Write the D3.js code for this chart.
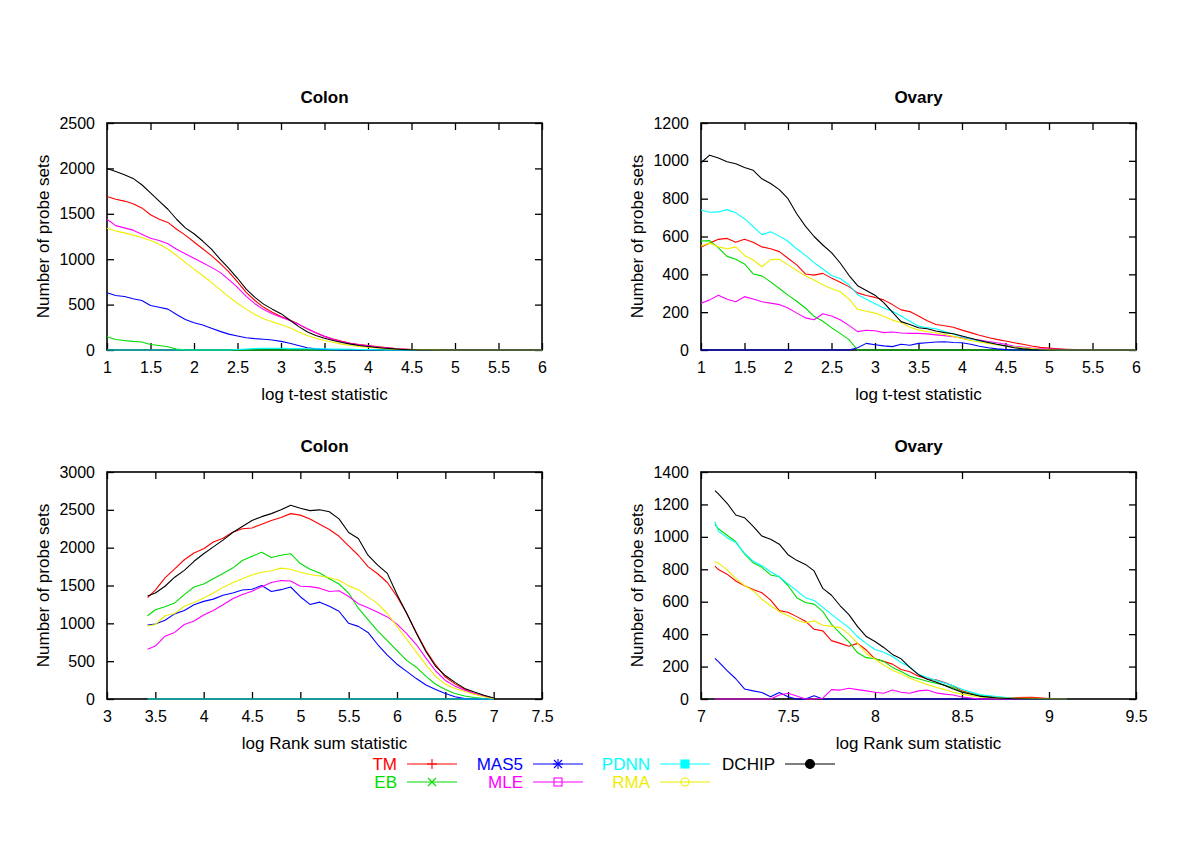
<!DOCTYPE html>
<html>
<head>
<meta charset="utf-8">
<script src="https://cdn.jsdelivr.net/npm/d3@7"></script>
<style>
body { margin: 0; background: #fff; }
text { font-family: "Liberation Sans", Arial, Helvetica, sans-serif; }
</style>
</head>
<body>
<svg width="1200" height="847"></svg>
<script>
// methods, plotted in this order (later ones on top)
var methods = ["TM", "EB", "MAS5", "MLE", "PDNN", "RMA", "DCHIP"];
var colors = ["#ff0000", "#00dd00", "#0000ff", "#ff00ff", "#00ffff", "#eeee00", "#000000"];

// ---- Colon / Ovary, log t-test statistic (shared x grid) ----
var tX = [1.0,1.1,1.2,1.3,1.4,1.5,1.6,1.7,1.8,1.9,2.0,2.1,2.2,2.3,2.4,2.5,2.6,2.7,2.8,2.9,
          3.0,3.1,3.2,3.3,3.4,3.5,3.6,3.7,3.8,3.9,4.0,4.1,4.2,4.3,4.4,4.5,4.6,4.7,4.8,4.9,
          5.0,5.1,5.2,5.3,5.4,5.5,6.0];
var tTicks = [1,1.5,2,2.5,3,3.5,4,4.5,5,5.5,6];

var colonT_TM = [1690,1660,1640,1610,1565,1490,1440,1405,1330,1265, 1190,1115,1040,955,860,750,635,545,470,415,
                 370,330,285,235,190,150,120,95,75,60, 48,38,28,18,11,6,2,0,0,0, 0,0,0,0,0,0,0];
var colonT_EB = [147,115,105,95,88,60,50,35,10,3, 0,0,0,0,0,0,0,0,0,0,
                 0,0,0,0,0,0,0,0,0,0, 0,0,0,0,0,0,0,0,0,0, 0,0,0,0,0,0,0];
var colonT_MAS5 = [630,600,590,565,545,490,470,450,390,335, 300,275,240,205,175,155,135,125,118,110,
                   95,75,50,25,12,6,3,0,0,0, 0,0,0,0,0,0,0,0,0,0, 0,0,0,0,0,0,0];
var colonT_MLE = [1440,1370,1345,1320,1275,1230,1205,1170,1110,1060, 1010,960,910,855,775,690,590,510,445,400,
                  360,325,285,235,190,150,115,90,72,57, 45,33,24,16,10,5,2,0,0,0, 0,0,0,0,0,0,0];
var colonT_PDNN = [0,0,0,0,0,0,0,0,0,0, 0,0,0,0,0,5,10,15,18,20,
                   18,15,15,14,12,12,10,10,8,6, 4,2,0,0,0,0,0,0,0,0, 0,0,0,0,0,0,0];
var colonT_RMA = [1340,1310,1290,1265,1240,1205,1165,1110,1040,965, 890,820,745,665,585,515,450,390,345,310,
                  280,245,200,160,130,105,85,65,50,40, 30,22,15,10,7,5,3,2,1,0, 0,0,0,0,0,0,0];
var colonT_DCHIP = [2000,1965,1930,1890,1820,1730,1640,1550,1440,1345, 1280,1200,1110,1000,900,790,670,580,505,450,
                    400,330,260,200,160,130,105,82,65,50, 38,28,20,12,6,2,0,0,0,0, 0,0,0,0,0,0,0];

var ovaryT_TM = [545,565,585,590,570,585,570,545,535,520, 485,450,402,396,405,380,358,335,302,288,
                 278,265,240,212,203,180,155,135,128,120, 105,92,78,66,56,48,38,30,21,14, 10,7,4,2,0,0,0];
var ovaryT_EB = [576,578,540,495,480,455,402,392,360,325, 290,258,222,178,152,118,88,55,0,0,
                 0,0,0,0,0,0,0,0,0,0, 0,0,0,0,0,0,0,0,0,0, 0,0,0,0,0,0,0];
var ovaryT_MAS5 = [0,0,0,0,0,0,0,0,0,0, 0,0,0,0,0,0,0,0,12,35,
                   28,22,18,30,25,35,38,42,44,40, 38,30,20,12,6,2,0,0,0,0, 0,0,0,0,0,0,0];
var ovaryT_MLE = [247,265,290,268,255,282,270,255,248,240, 222,195,170,160,192,180,160,130,97,104,
                  102,92,95,90,88,88,85,80,76,70, 65,58,52,45,38,30,20,15,10,7, 5,4,3,3,2,1,0];
var ovaryT_PDNN = [740,728,730,742,725,694,652,610,625,602, 575,535,500,462,428,394,378,345,292,268,
                   245,222,205,180,152,126,118,112,98,85, 70,58,48,40,30,22,16,10,5,2, 0,0,0,0,0,0,0];
var ovaryT_RMA = [550,565,545,535,545,500,476,440,478,480, 450,420,392,370,345,325,308,270,215,205,
                  195,178,158,145,120,105,98,90,82,72, 60,50,42,35,28,22,16,12,8,4, 2,0,0,0,0,0,0];
var ovaryT_DCHIP = [990,1030,1015,995,985,965,950,905,880,848, 800,720,655,600,555,515,460,395,340,315,
                    290,250,200,150,135,118,112,100,92,86, 74,62,50,40,30,22,12,6,2,0, 0,0,0,0,0,0,0];

// ---- Colon, log Rank sum statistic ----
var colonRX = [3.42,3.5,3.6,3.7,3.8,3.9,4.0,4.1,4.2,4.3,4.4,4.5,4.6,4.7,4.8,4.9,5.0,5.1,5.2,5.3,
               5.4,5.5,5.6,5.7,5.8,5.9,6.0,6.1,6.2,6.3,6.4,6.5,6.6,6.7,6.8,6.9,7.0];
var colonRTicks = [3,3.5,4,4.5,5,5.5,6,6.5,7,7.5];
var colonR_TM = [1340, 1440,1600,1720,1840,1930, 1985,2075,2125,2205,2250, 2260,2310,2360,2400,2450,
                 2430,2380,2310,2240,2150, 2025,1900,1750,1655,1540, 1355,1133,880,640,450, 290,200,130,70,40, 5];
var colonR_EB = [1100, 1180,1220,1270,1380,1480, 1520,1590,1660,1730,1830, 1885,1940,1870,1900,1920,
                 1790,1715,1665,1590,1520, 1400,1200,1050,900,770, 640,510,420,300,195, 125,72,40,20,5, 0];
var colonR_MAS5 = [978, 990,1040,1125,1170,1245, 1290,1320,1370,1400,1440, 1450,1500,1420,1445,1480,
                   1352,1250,1280,1225,1160, 1000,960,880,720,580, 460,365,270,185,125, 72,30,5,0,0, 0];
var colonR_MLE = [657, 700,830,880,985,1030, 1110,1170,1245,1325,1380, 1425,1485,1540,1565,1560,
                  1490,1485,1465,1420,1430, 1355,1260,1205,1145,1085, 990,865,720,540,370, 245,170,115,72,40, 5];
var colonR_PDNN = [0, 0,0,0,0,0, 0,0,0,0,0, 0,0,0,0,0, 0,0,0,0,0, 0,0,0,0,0, 0,0,0,0,0, 0,0,0,0,0, 0];
var colonR_RMA = [965, 985,1100,1130,1225,1275, 1335,1400,1475,1535,1590, 1640,1675,1695,1730,1715,
                  1675,1645,1625,1605,1570, 1495,1445,1350,1260,1130, 960,790,620,450,300, 195,140,100,62,30, 3];
var colonR_DCHIP = [1360, 1400,1490,1610,1700,1820, 1920,2010,2100,2200,2280, 2360,2410,2450,2500,2560,
                    2520,2490,2500,2475,2380, 2200,2120,1900,1770,1660, 1380,1133,870,625,430, 310,220,140,92,50, 13];

// ---- Ovary, log Rank sum statistic ----
var ovaryRX = [7.08,7.1,7.15,7.2,7.25,7.3,7.35,7.4,7.45,7.5,7.55,7.6,7.65,7.7,7.75,7.8,7.85,7.9,7.95,8.0,
               8.05,8.1,8.15,8.2,8.25,8.3,8.35,8.4,8.45,8.5,8.6,8.7,8.8,8.9,9.0,9.1];
var ovaryRTicks = [7,7.5,8,8.5,9,9.5];
var ovaryR_TM = [820, 798,770,728,698,675,655,610,545,535, 508,480,430,420,360,343,325,343,302,248,
                 232,215,182,168,140,125,118,102,80,50, 20,10,8,10,3,0];
var ovaryR_EB = [1075, 1050,1010,970,895,840,812,765,754,700, 625,595,585,540,460,405,352,285,255,248,
                 232,195,170,140,125,110,97,85,70,45, 22,8,0,0,0,0];
var ovaryR_MAS5 = [251, 230,175,125,62,50,40,14,40,14, 0,0,20,0,0,0,0,0,0,0,
                   0,0,0,0,0,0,0,0,0,0, 0,0,0,0,0,0];
var ovaryR_MLE = [0, 0,0,0,0,0,0,0,25,35, 18,0,0,5,58,55,66,58,50,42,
                  35,55,42,35,50,55,38,30,25,12, 0,0,0,0,0,0];
var ovaryR_PDNN = [1094, 1035,995,965,900,850,822,785,754,710, 668,625,608,565,522,480,440,384,343,305,
                   288,262,225,198,152,132,115,98,82,60, 27,15,4,0,0,0];
var ovaryR_RMA = [847, 838,796,742,700,668,615,575,540,515, 487,470,482,455,448,440,400,343,281,245,
                  210,178,155,128,108,90,72,58,42,30, 12,6,5,5,2,0];
var ovaryR_DCHIP = [1285, 1265,1207,1135,1118,1065,1005,985,955,890, 855,830,790,682,640,575,520,446,385,355,
                    318,275,248,195,150,122,105,84,62,42, 18,6,2,0,0,0];

var panels = [
  {title: "Colon", xLabel: "log t-test statistic", x: tX, xTicks: tTicks, yMax: 2500, yStep: 500,
   series: [colonT_TM, colonT_EB, colonT_MAS5, colonT_MLE, colonT_PDNN, colonT_RMA, colonT_DCHIP], left: 107, top: 123},
  {title: "Ovary", xLabel: "log t-test statistic", x: tX, xTicks: tTicks, yMax: 1200, yStep: 200,
   series: [ovaryT_TM, ovaryT_EB, ovaryT_MAS5, ovaryT_MLE, ovaryT_PDNN, ovaryT_RMA, ovaryT_DCHIP], left: 701, top: 123},
  {title: "Colon", xLabel: "log Rank sum statistic", x: colonRX, xTicks: colonRTicks, yMax: 3000, yStep: 500,
   series: [colonR_TM, colonR_EB, colonR_MAS5, colonR_MLE, colonR_PDNN, colonR_RMA, colonR_DCHIP], left: 107, top: 472},
  {title: "Ovary", xLabel: "log Rank sum statistic", x: ovaryRX, xTicks: ovaryRTicks, yMax: 1400, yStep: 200,
   series: [ovaryR_TM, ovaryR_EB, ovaryR_MAS5, ovaryR_MLE, ovaryR_PDNN, ovaryR_RMA, ovaryR_DCHIP], left: 701, top: 472}
];

var svg = d3.select("svg");
var W = 435, H = 227;

function styleAxis(a) {
  a.select(".domain").remove();
  a.attr("font-size", 16).attr("font-family", null);
  a.selectAll(".tick line").attr("stroke-width", 1.3);
}

function drawPanel(p) {
  var x = d3.scaleLinear()
      .domain([p.xTicks[0], p.xTicks[p.xTicks.length - 1]])
      .range([p.left, p.left + W]);
  var y = d3.scaleLinear().domain([0, p.yMax]).range([p.top + H, p.top]);
  var yTicks = d3.range(0, p.yMax + 1, p.yStep);
  var g = svg.append("g");

  // axes, ticks on all four sides pointing inwards
  g.append("g").attr("transform", "translate(0," + (p.top + H) + ")")
    .call(d3.axisBottom(x).tickValues(p.xTicks).tickSize(-7).tickPadding(12).tickFormat(d3.format("")))
    .call(styleAxis);
  g.append("g").attr("transform", "translate(0," + p.top + ")")
    .call(d3.axisTop(x).tickValues(p.xTicks).tickSize(-7).tickFormat(""))
    .call(styleAxis);
  g.append("g").attr("transform", "translate(" + p.left + ",0)")
    .call(d3.axisLeft(y).tickValues(yTicks).tickSize(-7).tickPadding(12).tickFormat(d3.format("d")))
    .call(styleAxis);
  g.append("g").attr("transform", "translate(" + (p.left + W) + ",0)")
    .call(d3.axisRight(y).tickValues(yTicks).tickSize(-7).tickFormat(""))
    .call(styleAxis);

  g.append("rect")
    .attr("x", p.left).attr("y", p.top).attr("width", W).attr("height", H)
    .attr("fill", "none").attr("stroke", "#000").attr("stroke-width", 1.6);

  var line = d3.line()
    .x(function(d, i) { return x(p.x[i]); })
    .y(function(d) { return y(d); });

  g.selectAll(".series")
    .data(p.series)
    .enter()
    .append("path")
    .attr("class", "series")
    .attr("d", line)
    .attr("fill", "none")
    .attr("stroke", function(d, i) { return colors[i]; })
    .attr("stroke-width", 1.1)
    .attr("stroke-linejoin", "round");

  // titles
  g.append("text")
    .attr("x", p.left + W / 2).attr("y", p.top - 20)
    .attr("text-anchor", "middle").attr("font-size", 17).attr("font-weight", "bold")
    .text(p.title);
  g.append("text")
    .attr("x", p.left + W / 2).attr("y", p.top + H + 50)
    .attr("text-anchor", "middle").attr("font-size", 17)
    .text(p.xLabel);
  g.append("text")
    .attr("transform", "translate(" + (p.left - 64) + "," + (p.top + H / 2) + ") rotate(-90)")
    .attr("text-anchor", "middle").attr("dy", "0.35em").attr("font-size", 17)
    .text("Number of probe sets");
}

panels.forEach(drawPanel);

// legend: two rows, four columns
var legendRight = [397, 523, 650, 775];
var legendRows = [764, 782];
var legend = svg.append("g").attr("class", "legend");

methods.forEach(function(m, i) {
  var col = Math.floor(i / 2), row = i % 2;
  var tx = legendRight[col], ty = legendRows[row];
  var c = colors[i];
  legend.append("text")
    .attr("x", tx).attr("y", ty).attr("dy", "0.36em")
    .attr("text-anchor", "end").attr("font-size", 17).attr("fill", c)
    .text(m);
  legend.append("line")
    .attr("x1", tx + 10).attr("x2", tx + 60).attr("y1", ty).attr("y2", ty)
    .attr("stroke", c).attr("stroke-width", 1.1);
  var cx = tx + 35, s = 5;
  var mk = legend.append("g").attr("stroke", c).attr("stroke-width", 1.1).attr("fill", "none");
  if (m == "TM" || m == "MAS5") {
    mk.append("line").attr("x1", cx - s).attr("x2", cx + s).attr("y1", ty).attr("y2", ty);
    mk.append("line").attr("x1", cx).attr("x2", cx).attr("y1", ty - s).attr("y2", ty + s);
  }
  if (m == "EB" || m == "MAS5") {
    mk.append("line").attr("x1", cx - 4).attr("x2", cx + 4).attr("y1", ty - 4).attr("y2", ty + 4);
    mk.append("line").attr("x1", cx - 4).attr("x2", cx + 4).attr("y1", ty + 4).attr("y2", ty - 4);
  }
  if (m == "MLE") {
    mk.append("rect").attr("x", cx - 4).attr("y", ty - 4).attr("width", 8).attr("height", 8);
  }
  if (m == "PDNN") {
    mk.append("rect").attr("x", cx - 4).attr("y", ty - 4).attr("width", 8).attr("height", 8).attr("fill", c);
  }
  if (m == "RMA") {
    mk.append("circle").attr("cx", cx).attr("cy", ty).attr("r", 4);
  }
  if (m == "DCHIP") {
    mk.append("circle").attr("cx", cx).attr("cy", ty).attr("r", 4.5).attr("fill", c);
  }
});
</script>
</body>
</html>
